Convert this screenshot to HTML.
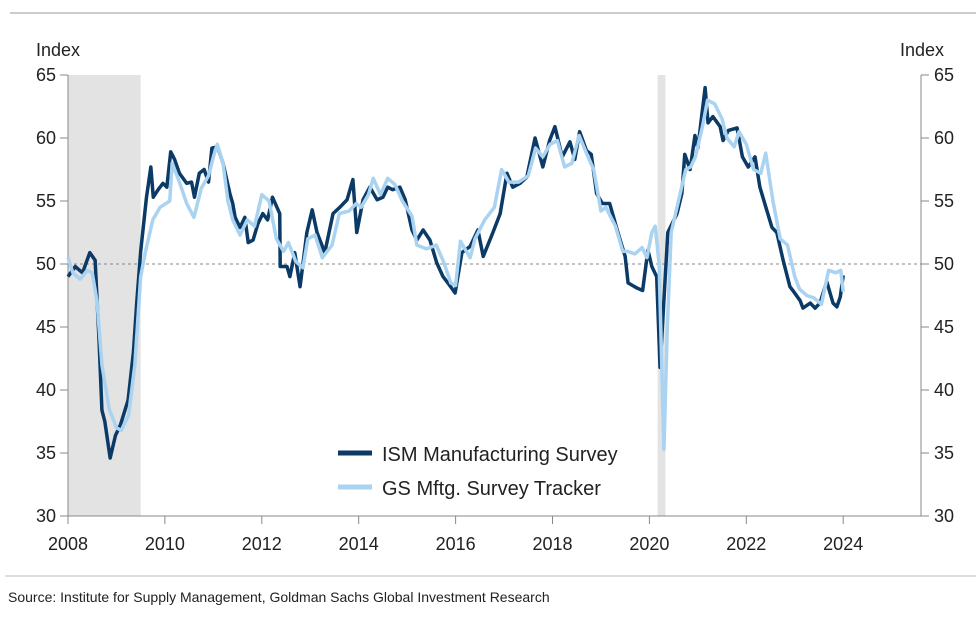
<!DOCTYPE html>
<html><head><meta charset="utf-8"><style>
body{margin:0;background:#fff;width:976px;height:616px;overflow:hidden;font-family:"Liberation Sans",sans-serif;}
svg text{font-family:"Liberation Sans",sans-serif;fill:#222;}
</style></head><body>
<svg id="chart" width="976" height="616">
<line x1="10" y1="13" x2="976" y2="13" stroke="#999" stroke-width="1"/>
<line x1="5" y1="576" x2="976" y2="576" stroke="#bbb" stroke-width="1"/>
<text x="36" y="56" font-size="18">Index</text>
<text x="900" y="56" font-size="18">Index</text>
<text x="8" y="602" font-size="14" fill="#333">Source: Institute for Supply Management, Goldman Sachs Global Investment Research</text>
<g id="plot"></g>
</svg>
<script>
const recessions=[[2008.0,2009.5],[2020.17,2020.33]];
const yTicks=[30,35,40,45,50,55,60,65];
const xTicks=[2008,2010,2012,2014,2016,2018,2020,2022,2024];
const ismDates=[2008.0,2008.15,2008.3,2008.45,2008.56,2008.64,2008.7,2008.76,2008.87,2008.98,2009.08,2009.24,2009.35,2009.42,2009.5,2009.62,2009.71,2009.76,2009.86,2009.96,2010.04,2010.12,2010.2,2010.3,2010.45,2010.55,2010.61,2010.71,2010.81,2010.9,2010.97,2011.09,2011.2,2011.34,2011.4,2011.45,2011.55,2011.65,2011.72,2011.82,2011.92,2012.02,2012.12,2012.22,2012.37,2012.38,2012.52,2012.58,2012.68,2012.79,2012.93,2013.04,2013.14,2013.3,2013.47,2013.61,2013.76,2013.88,2013.96,2014.09,2014.23,2014.38,2014.5,2014.6,2014.7,2014.85,2014.96,2015.1,2015.2,2015.33,2015.47,2015.61,2015.74,2015.84,2015.99,2016.13,2016.3,2016.46,2016.57,2016.77,2016.92,2017.06,2017.18,2017.33,2017.47,2017.64,2017.8,2017.94,2018.05,2018.2,2018.36,2018.46,2018.56,2018.7,2018.8,2018.91,2019.03,2019.18,2019.35,2019.5,2019.56,2019.74,2019.86,2019.97,2020.05,2020.15,2020.22,2020.38,2020.57,2020.67,2020.73,2020.84,2020.94,2021.0,2021.15,2021.21,2021.31,2021.46,2021.52,2021.63,2021.81,2021.92,2022.04,2022.18,2022.28,2022.42,2022.53,2022.63,2022.76,2022.9,2022.96,2023.11,2023.17,2023.32,2023.42,2023.52,2023.66,2023.79,2023.87,2023.94,2024.0];
const ismValues=[49,49.8,49.3,50.9,50.3,44,38.4,37.5,34.6,36.4,37.2,39.2,43,47,51,55.3,57.7,55.3,55.9,56.4,56.1,58.9,58.3,57.2,56.4,56.5,55.3,57.2,57.5,56.5,59.2,59.3,58.0,55.6,54.8,53.7,52.9,53.7,51.7,51.9,53.2,54.0,53.5,55.3,54.0,49.8,49.8,49.0,50.9,48.2,52.5,54.3,52.5,50.9,54.0,54.5,55.1,56.7,52.5,55.1,56.1,55.1,55.3,56.1,55.9,56.1,55.1,52.7,51.9,52.7,51.9,50.1,49.0,48.5,47.7,50.9,51.4,52.7,50.6,52.5,54.0,57.2,56.1,56.4,56.9,60.0,57.7,59.8,60.9,58.5,59.7,58.3,60.5,59.0,58.7,55.6,54.8,54.8,52.5,50.6,48.5,48.1,47.9,51.1,49.8,49.0,41.8,52.5,54.0,55.6,58.7,57.5,60.2,59.2,64.0,61.2,61.7,60.9,59.8,60.6,60.8,58.5,57.7,58.5,56.1,54.3,52.9,52.5,50.3,48.2,47.9,47.1,46.5,46.9,46.5,46.9,48.6,46.9,46.6,47.4,49.1];
const gsDates=[2008.0,2008.1,2008.25,2008.4,2008.5,2008.6,2008.7,2008.85,2009.0,2009.1,2009.25,2009.38,2009.5,2009.6,2009.75,2009.9,2010.1,2010.15,2010.3,2010.45,2010.6,2010.75,2010.9,2011.0,2011.08,2011.2,2011.3,2011.4,2011.55,2011.7,2011.85,2012.0,2012.15,2012.3,2012.45,2012.55,2012.7,2012.85,2012.95,2013.1,2013.25,2013.45,2013.6,2013.8,2013.95,2014.05,2014.2,2014.3,2014.45,2014.6,2014.75,2014.9,2015.1,2015.2,2015.4,2015.6,2015.75,2015.9,2016.0,2016.1,2016.3,2016.4,2016.6,2016.8,2016.95,2017.1,2017.3,2017.5,2017.65,2017.8,2017.95,2018.1,2018.25,2018.4,2018.55,2018.7,2018.85,2019.0,2019.1,2019.3,2019.45,2019.55,2019.7,2019.85,2019.95,2020.05,2020.12,2020.2,2020.3,2020.37,2020.45,2020.6,2020.75,2020.85,2020.95,2021.1,2021.2,2021.35,2021.5,2021.6,2021.75,2021.85,2022.0,2022.15,2022.3,2022.4,2022.55,2022.7,2022.85,2023.0,2023.1,2023.25,2023.4,2023.55,2023.7,2023.85,2023.95,2024.0];
const gsValues=[50.5,49.3,48.8,49.5,49.3,47,42,38.5,37,36.8,38,42,49,51,53.5,54.5,55,58,56.5,54.8,53.7,56,57,58.5,59.5,58,55,53.5,52.3,53.5,53,55.5,55,52,51,51.7,50.2,49.7,52,52.3,50.5,51.5,54,54.2,54.8,54.5,55.5,56.8,55.5,56.8,56.3,55,53.8,51.5,51.2,51.5,50.2,48.5,48.3,51.8,50.5,52,53.5,54.5,57.5,56.5,56.5,57,59.2,58.5,59.5,59.8,57.7,58,60.2,58.8,57.5,54.2,54.5,53,51,51,50.8,51.3,50.5,52.5,53,50,35.3,45,52.5,55,57.5,57.7,58.5,61,63,62.7,61.5,60,59.3,60.5,59.5,57.5,57.2,58.8,55,52,51.5,49,48,47.5,47.3,46.8,49.5,49.3,49.5,47.8];

const X0=68,X1=921,Y0=516,Y1=75;
const xMin=2008,pxPerYear=48.45,yMin=30,yMax=65;
const sx=d=>X0+(d-xMin)*pxPerYear;
const sy=v=>Y0-(v-yMin)/(yMax-yMin)*(Y0-Y1);
const NS="http://www.w3.org/2000/svg";
const g=document.getElementById('plot');
function mk(tag,attrs){const e=document.createElementNS(NS,tag);for(const k in attrs)e.setAttribute(k,attrs[k]);g.appendChild(e);return e;}
recessions.forEach(r=>{
 const e=mk('rect',{x:sx(r[0]),y:Y1,width:sx(r[1])-sx(r[0]),height:Y0-Y1,fill:'#e3e3e3'});
 
 
});
let e=mk('line',{x1:X0,y1:sy(50),x2:X1,y2:sy(50),stroke:'#888','stroke-width':1,'stroke-dasharray':'3,3'});


e=mk('line',{x1:X0,y1:Y1,x2:X0,y2:Y0,stroke:'#888'});


e=mk('line',{x1:X1,y1:Y1,x2:X1,y2:Y0,stroke:'#888'});


e=mk('line',{x1:X0,y1:Y0,x2:X1,y2:Y0,stroke:'#888'});


yTicks.forEach(v=>{
 mk('line',{x1:X0-8,y1:sy(v),x2:X0,y2:sy(v),stroke:'#888'});
 mk('line',{x1:X1,y1:sy(v),x2:X1+8,y2:sy(v),stroke:'#888'});
 let t=mk('text',{x:X0-12,y:sy(v)+6,'font-size':18,'text-anchor':'end'});t.textContent=v;
 
 
 t=mk('text',{x:X1+13,y:sy(v)+6,'font-size':18});t.textContent=v;
 
 
});
xTicks.forEach(d=>{
 mk('line',{x1:sx(d),y1:Y0,x2:sx(d),y2:Y0+8,stroke:'#888'});
 const t=mk('text',{x:sx(d),y:Y0+34,'font-size':18,'text-anchor':'middle'});t.textContent=d;
 
 
});
function line(ds,vs,col,w,name){
 const p=mk('polyline',{points:ds.map((d,i)=>sx(d)+','+sy(vs[i])).join(' '),fill:'none',stroke:col,'stroke-width':w,'stroke-linejoin':'round'});
 
 
}
line(ismDates,ismValues,'#0b3a66',3.5,'ism-manufacturing-line');
line(gsDates,gsValues,'#a9d3f0',3.5,'gs-tracker-line');
e=mk('line',{x1:338,y1:453,x2:372,y2:453,stroke:'#0b3a66','stroke-width':5});


e=mk('line',{x1:338,y1:487,x2:372,y2:487,stroke:'#a9d3f0','stroke-width':5});


let t=mk('text',{x:382,y:461,'font-size':20});t.textContent='ISM Manufacturing Survey';


t=mk('text',{x:382,y:495,'font-size':20});t.textContent='GS Mftg. Survey Tracker';


</script>
</body></html>
